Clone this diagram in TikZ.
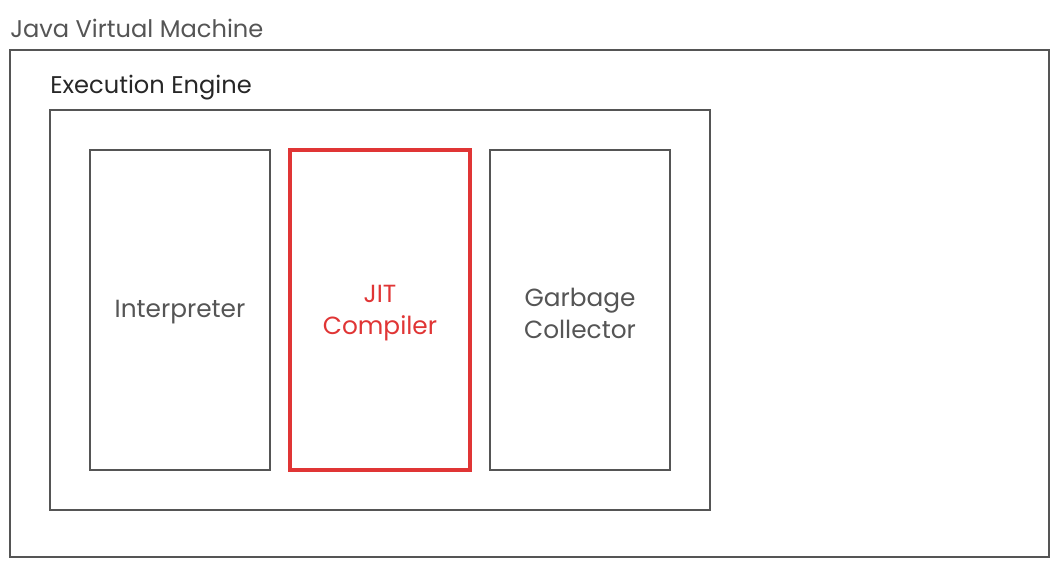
\documentclass[tikz,border=0pt]{standalone}
\usepackage{fontspec}
\setmainfont{Poppins}
\usepackage{tikz}
\usetikzlibrary{positioning}
\newdimen\px
\px=0.75pt
\definecolor{boxGray}{HTML}{555555}
\definecolor{jitRed}{HTML}{E03535}
\tikzset{
    areaBox/.style={
        rectangle,
        draw=boxGray,
        line width=1.2pt,
        fill=none,
        inner sep=0pt,
        outer sep=0pt,
        anchor=north west
    },
    partBox/.style={
        areaBox,
        minimum width=180\px,
        minimum height=320\px
    },
    jitBox/.style={
        partBox,
        draw=jitRed,
        line width=2.3pt
    },
    areaTitle/.style={
        anchor=west,
        inner sep=0pt,
        font=\fontsize{18.1}{20}\selectfont
    },
    partText/.style={
        align=center,
        text=boxGray,
        inner sep=0pt,
        font=\fontsize{18.6}{24}\selectfont
    }
}

\begin{document}
\begin{tikzpicture}[x=0.75pt, y=-0.75pt]
            \useasboundingbox (0,0) rectangle (1060,567);

            % Outer areas
            \node[areaBox, minimum width=1039\px, minimum height=507\px] (jvm) at (10,50) {};
            \node[areaBox, minimum width=660\px, minimum height=400\px] (engine) at (50,110) {};

            % Area titles
            \node[areaTitle, text=boxGray] (jvmTitle) at (10,28) {Java Virtual Machine};
            \node[areaTitle, text=black!85] (engineTitle) at (50,88) {Execution Engine};

            % Parts of the engine
            \node[partBox] (interp) at (90,150) {};
            \node[jitBox] (jit) at (290,150) {};
            \node[partBox] (gc) at (490,150) {};

            % Part labels
            \node[partText] (interpText) at ([yshift=-2\px]interp.center) {Interpreter};
            \node[partText, text=jitRed] (jitText) at ([yshift=-3\px]jit.center) {JIT\\Compiler};
            \node[partText] (gcText) at ([yshift=-3\px]gc.center) {Garbage\\Collector};
        \end{tikzpicture}
\end{document}
